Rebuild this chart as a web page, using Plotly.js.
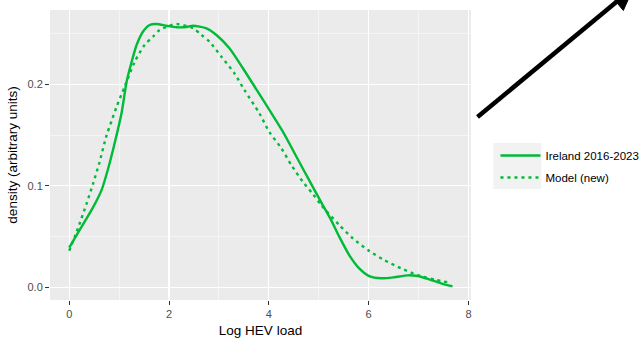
<!DOCTYPE html>
<html>
<head>
<meta charset="utf-8">
<script src="https://cdn.plot.ly/plotly-3.0.1.min.js"></script>
<style>html,body{margin:0;padding:0;background:#fff;}#chart{width:643px;height:338px;}</style>
</head>
<body>
<div id="chart"></div>
<script>
// Ireland 2016-2023 (observed density)
const irelandX = [0, 0.21, 0.48, 0.65, 0.78, 0.9, 1.05, 1.15, 1.25, 1.35, 1.48, 1.61, 1.75, 1.95, 2.15, 2.35, 2.48, 2.75, 2.95, 3.21, 3.48, 3.75, 4.01, 4.28, 4.48, 4.68, 4.88, 5.08, 5.25, 5.41, 5.61, 5.81, 6.01, 6.25, 6.51, 6.78, 6.98, 7.21, 7.45, 7.68];
const irelandY = [0.039, 0.0565, 0.079, 0.096, 0.117, 0.140, 0.172, 0.2026, 0.222, 0.2387, 0.252, 0.2584, 0.2594, 0.2577, 0.2562, 0.2565, 0.2577, 0.2552, 0.2486, 0.2355, 0.2158, 0.195, 0.1747, 0.1533, 0.1353, 0.117, 0.099, 0.081, 0.066, 0.0499, 0.0318, 0.0187, 0.0111, 0.0089, 0.0099, 0.0118, 0.0111, 0.0079, 0.0039, 0.0010];
// Model (new)
const modelX = [0, 0.15, 0.35, 0.48, 0.6, 0.75, 0.85, 0.95, 1.11, 1.31, 1.51, 1.68, 1.81, 2.0, 2.15, 2.48, 2.65, 2.81, 3.05, 3.31, 3.51, 3.81, 4.01, 4.25, 4.45, 4.68, 4.88, 5.05, 5.41, 5.68, 6.01, 6.31, 6.65, 6.98, 7.35, 7.58];
const modelY = [0.036, 0.0548, 0.0828, 0.1025, 0.122, 0.150, 0.164, 0.178, 0.1976, 0.222, 0.2387, 0.247, 0.2535, 0.2575, 0.2594, 0.2552, 0.2486, 0.242, 0.2272, 0.2108, 0.1944, 0.1714, 0.153, 0.137, 0.1205, 0.104, 0.092, 0.081, 0.0614, 0.0483, 0.0358, 0.0269, 0.0187, 0.0121, 0.0072, 0.0050];
const seriesNames = ["Ireland 2016-2023", "Model (new)"];
const xTicks = [0, 2, 4, 6, 8];
const yTicks = [0.0, 0.1, 0.2];
const yTickText = ["0.0", "0.1", "0.2"];

const green = "#00BA38";
const traces = [
  {x: irelandX, y: irelandY, mode: "lines", name: seriesNames[0], legendgroup: "a",
   line: {color: green, width: 2.4, shape: "spline", smoothing: 0.7}},
  {x: modelX, y: modelY, mode: "lines", name: seriesNames[1], legendgroup: "b",
   line: {color: green, width: 2.4, dash: "3px,4px", shape: "spline", smoothing: 0.7}}
];

const L = 50, R = 643 - 471.5, T = 10, B = 38;
const pw = 643 - L - R, ph = 338 - T - B;
const px = v => (v - L) / pw;
const py = v => (338 - B - v) / ph;

// decorative arrow (pixel geometry converted to paper coords)
const tail = [478, 117], base = [617, 2], tip = [634, -12], wingR = [624, 10.5], wingL = [610, -6.5];
const headPath = "M" + px(tip[0]) + "," + py(tip[1]) + " L" + px(wingR[0]) + "," + py(wingR[1]) +
                 " L" + px(wingL[0]) + "," + py(wingL[1]) + " Z";

const layout = {
  width: 643, height: 338,
  margin: {l: L, r: R, t: T, b: B, pad: 0, autoexpand: false},
  paper_bgcolor: "#ffffff",
  plot_bgcolor: "#EBEBEB",
  font: {family: "Liberation Sans, Arial, sans-serif", color: "#000"},
  showlegend: true,
  legend: {x: px(496), y: py(141), xanchor: "left", yanchor: "top",
           bgcolor: "rgba(0,0,0,0)", borderwidth: 0, tracegroupgap: 3,
           font: {size: 11.5, color: "#000"}, itemwidth: 40},
  xaxis: {range: [-0.385, 8.05], tickvals: xTicks, ticks: "outside", ticklen: 4,
          tickcolor: "#333333", tickwidth: 1, showgrid: true, gridcolor: "#ffffff",
          gridwidth: 1.1, zeroline: false, showline: false,
          tickfont: {size: 11, color: "#4D4D4D"},
          minor: {tickvals: [1, 3, 5, 7], showgrid: true, gridcolor: "#ffffff", gridwidth: 0.5, ticks: ""},
          title: {text: "Log HEV load", font: {size: 13.5, color: "#000"}, standoff: 6}},
  yaxis: {range: [-0.0125, 0.2732], tickvals: yTicks, ticktext: yTickText, ticks: "outside", ticklen: 4,
          tickcolor: "#333333", tickwidth: 1, showgrid: true, gridcolor: "#ffffff",
          gridwidth: 1.1, zeroline: false, showline: false,
          tickfont: {size: 11, color: "#4D4D4D"},
          minor: {tickvals: [0.05, 0.15, 0.25], showgrid: true, gridcolor: "#ffffff", gridwidth: 0.5, ticks: ""},
          title: {text: "density (arbitrary units)", font: {size: 13.5, color: "#000"}, standoff: 6}},
  shapes: [
    {type: "rect", xref: "paper", yref: "paper", x0: px(494), x1: px(542), y0: py(143), y1: py(189),
     fillcolor: "#F2F2F2", line: {width: 0}, layer: "below"},
    {type: "line", xref: "paper", yref: "paper", x0: px(tail[0]), y0: py(tail[1]), x1: px(base[0]), y1: py(base[1]),
     line: {color: "#000000", width: 4.5}, layer: "above"},
    {type: "path", xref: "paper", yref: "paper", path: headPath, fillcolor: "#000000",
     line: {color: "#000000", width: 1}, layer: "above"}
  ]
};

Plotly.newPlot("chart", traces, layout, {displayModeBar: false, staticPlot: true});
</script>
</body>
</html>
